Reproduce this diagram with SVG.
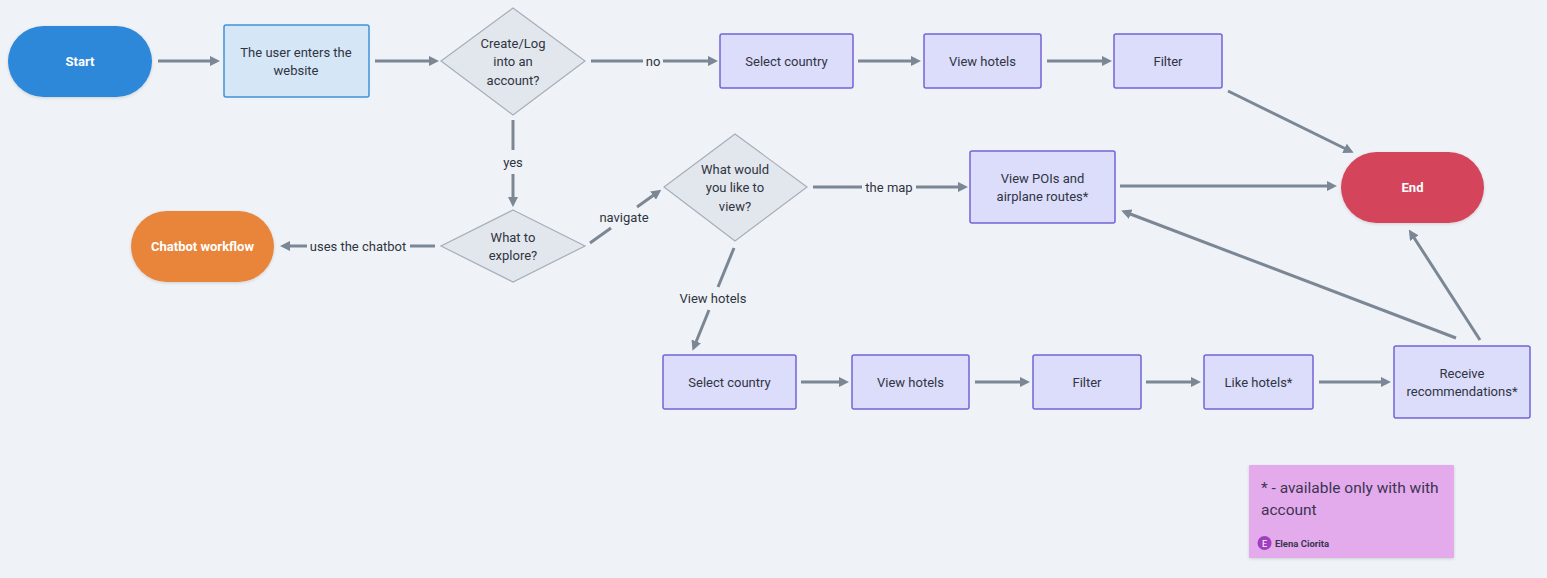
<svg xmlns="http://www.w3.org/2000/svg" width="1547" height="578" viewBox="0 0 1547 578">
<style>
.t{font-family:Roboto,"Liberation Sans",sans-serif;font-size:13px;fill:#2f3542;text-anchor:middle}
.w{font-family:Roboto,"Liberation Sans",sans-serif;font-size:13px;font-weight:bold;fill:#ffffff;text-anchor:middle}
.box{fill:#dcdcfb;stroke:#7464d8;stroke-width:1.5}
.dia{fill:#e2e6ed;stroke:#a7aeb8;stroke-width:1.2}
.c{stroke:#7b8794;stroke-width:3;fill:none}
.lbl{font-family:Roboto,"Liberation Sans",sans-serif;font-size:13px;fill:#2f3542;text-anchor:middle}
</style>
<defs>
<marker id="ah" viewBox="0 0 10 10" refX="6" refY="5" markerWidth="3.4" markerHeight="3.4" orient="auto" markerUnits="strokeWidth">
<path d="M0,0 L10,5 L0,10 z" fill="#7b8794"/>
</marker>
<filter id="sh" x="-10%" y="-10%" width="120%" height="130%">
<feDropShadow dx="0" dy="1" stdDeviation="1.5" flood-color="#000" flood-opacity="0.15"/>
</filter>
</defs>
<rect width="1547" height="578" fill="#eff3f7"/>

<g id="connectors">
<line class="c" x1="158" y1="61" x2="216" y2="61" marker-end="url(#ah)"/>
<line class="c" x1="375" y1="61" x2="435" y2="61" marker-end="url(#ah)"/>
<line class="c" x1="591" y1="61" x2="643" y2="61"/>
<line class="c" x1="663" y1="61" x2="714" y2="61" marker-end="url(#ah)"/>
<text class="lbl" x="653" y="66">no</text>
<line class="c" x1="858" y1="61" x2="917" y2="61" marker-end="url(#ah)"/>
<line class="c" x1="1047" y1="61" x2="1108" y2="61" marker-end="url(#ah)"/>
<line class="c" x1="1228" y1="91" x2="1350" y2="151" marker-end="url(#ah)"/>
<line class="c" x1="513" y1="120" x2="513" y2="150"/>
<line class="c" x1="513" y1="174" x2="513" y2="203" marker-end="url(#ah)"/>
<text class="lbl" x="513" y="167">yes</text>
<line class="c" x1="435" y1="246" x2="410" y2="246"/>
<line class="c" x1="307" y1="246" x2="284" y2="246" marker-end="url(#ah)"/>
<text class="lbl" x="358" y="251">uses the chatbot</text>
<line class="c" x1="590" y1="243" x2="611" y2="228"/>
<line class="c" x1="637" y1="207" x2="658" y2="192" marker-end="url(#ah)"/>
<text class="lbl" x="624" y="222">navigate</text>
<line class="c" x1="813" y1="187" x2="862" y2="187"/>
<line class="c" x1="916" y1="187" x2="964" y2="187" marker-end="url(#ah)"/>
<text class="lbl" x="889" y="192">the map</text>
<line class="c" x1="1120" y1="186" x2="1333" y2="186" marker-end="url(#ah)"/>
<line class="c" x1="734" y1="248" x2="718" y2="287"/>
<line class="c" x1="709" y1="310" x2="694" y2="347" marker-end="url(#ah)"/>
<text class="lbl" x="713" y="303">View hotels</text>
<line class="c" x1="801" y1="382" x2="845" y2="382" marker-end="url(#ah)"/>
<line class="c" x1="975" y1="382" x2="1026" y2="382" marker-end="url(#ah)"/>
<line class="c" x1="1146" y1="382" x2="1197" y2="382" marker-end="url(#ah)"/>
<line class="c" x1="1319" y1="382" x2="1387" y2="382" marker-end="url(#ah)"/>
<line class="c" x1="1456" y1="338" x2="1125" y2="212" marker-end="url(#ah)"/>
<line class="c" x1="1480" y1="340" x2="1411" y2="233" marker-end="url(#ah)"/>
</g>

<g id="start">
<rect x="8" y="26" width="144" height="71" rx="35.5" fill="#2d88d9" filter="url(#sh)"/>
<text class="w" x="80" y="66">Start</text>
</g>
<g id="enter">
<rect x="224" y="25" width="145" height="72" rx="2" fill="#d5e6f6" stroke="#3f92da" stroke-width="1.5"/>
<text class="t" x="296" y="57">The user enters the</text>
<text class="t" x="296" y="75">website</text>
</g>
<g id="account">
<polygon class="dia" points="513,8 585,61 513,115 441,61"/>
<text class="t" x="513" y="48">Create/Log</text>
<text class="t" x="513" y="66">into an</text>
<text class="t" x="513" y="85">account?</text>
</g>
<g id="sel1">
<rect class="box" x="720" y="34" width="133" height="54" rx="2"/>
<text class="t" x="786.5" y="66">Select country</text>
</g>
<g id="view1">
<rect class="box" x="924" y="34" width="117" height="54" rx="2"/>
<text class="t" x="982.5" y="66">View hotels</text>
</g>
<g id="filter1">
<rect class="box" x="1114" y="34" width="108" height="54" rx="2"/>
<text class="t" x="1168" y="66">Filter</text>
</g>
<g id="end">
<rect x="1341" y="152" width="143" height="71" rx="35.5" fill="#d4455b" filter="url(#sh)"/>
<text class="w" x="1412.5" y="192">End</text>
</g>
<g id="explore">
<polygon class="dia" points="513,210 585,246 513,282 441,246"/>
<text class="t" x="513" y="242">What to</text>
<text class="t" x="513" y="260">explore?</text>
</g>
<g id="chatbot">
<rect x="131" y="211" width="143" height="71" rx="35.5" fill="#e8853b" filter="url(#sh)"/>
<text class="w" x="202.5" y="251">Chatbot workflow</text>
</g>
<g id="viewq">
<polygon class="dia" points="735,134 807,187 735,241 664,187"/>
<text class="t" x="735" y="174">What would</text>
<text class="t" x="735" y="192">you like to</text>
<text class="t" x="735" y="211">view?</text>
</g>
<g id="pois">
<rect class="box" x="970" y="151" width="145" height="72" rx="2"/>
<text class="t" x="1042.5" y="183">View POIs and</text>
<text class="t" x="1042.5" y="201">airplane routes*</text>
</g>
<g id="sel2">
<rect class="box" x="663" y="355" width="133" height="54" rx="2"/>
<text class="t" x="729.5" y="387">Select country</text>
</g>
<g id="view2">
<rect class="box" x="852" y="355" width="117" height="54" rx="2"/>
<text class="t" x="910.5" y="387">View hotels</text>
</g>
<g id="filter2">
<rect class="box" x="1033" y="355" width="108" height="54" rx="2"/>
<text class="t" x="1087" y="387">Filter</text>
</g>
<g id="like">
<rect class="box" x="1204" y="355" width="109" height="54" rx="2"/>
<text class="t" x="1258.5" y="387">Like hotels*</text>
</g>
<g id="recv">
<rect class="box" x="1394" y="346" width="136" height="72" rx="2"/>
<text class="t" x="1462" y="378">Receive</text>
<text class="t" x="1462" y="396">recommendations*</text>
</g>
<g id="note">
<rect x="1249" y="465" width="205" height="93" rx="1" fill="#e4abec" filter="url(#sh)"/>
<text x="1261" y="493" font-family="Roboto,'Liberation Sans',sans-serif" font-size="15.5" fill="#3a3550">* - available only with with</text>
<text x="1261" y="515" font-family="Roboto,'Liberation Sans',sans-serif" font-size="15.5" fill="#3a3550">account</text>
<circle cx="1264.5" cy="543" r="7" fill="#a03fbf"/>
<text x="1264.5" y="546.5" font-family="Roboto,'Liberation Sans',sans-serif" font-size="9" fill="#ffffff" text-anchor="middle">E</text>
<text x="1275" y="546.5" font-family="Roboto,'Liberation Sans',sans-serif" font-size="9.5" font-weight="bold" fill="#3a3550">Elena Ciorita</text>
</g>
</svg>
